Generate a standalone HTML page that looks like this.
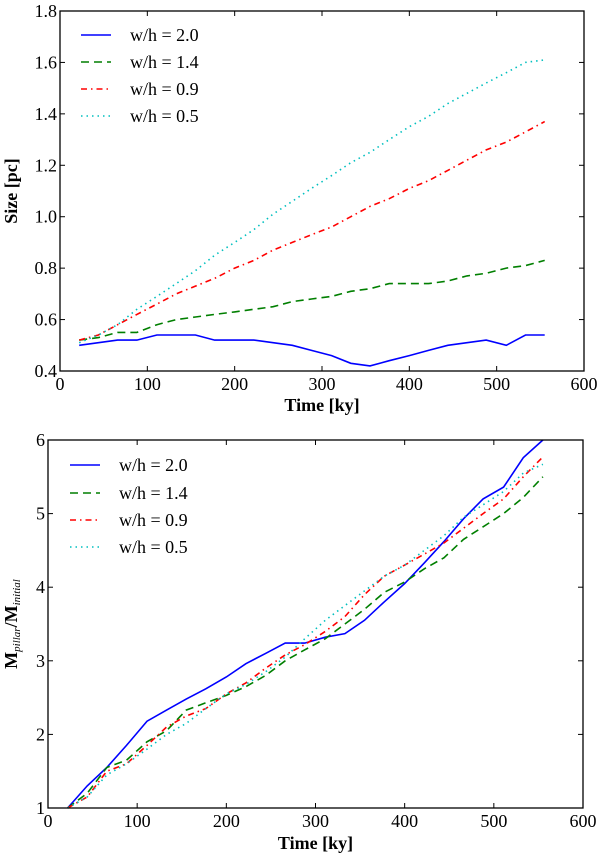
<!DOCTYPE html>
<html><head><meta charset="utf-8"><style>
html,body{margin:0;padding:0;background:#fff;}
svg{display:block;font-family:"Liberation Serif",serif;}
</style></head><body>
<svg id="chart" width="600" height="856" viewBox="0 0 600 856" xmlns="http://www.w3.org/2000/svg"></svg>
<script>
const times = [22,44,66,88,111,133,155,177,200,222,244,266,288,311,333,355,377,400,422,444,466,488,511,533,555];
const seriesLabels = ["w/h = 2.0","w/h = 1.4","w/h = 0.9","w/h = 0.5"];
const sizeA = [0.50,0.51,0.52,0.52,0.54,0.54,0.54,0.52,0.52,0.52,0.51,0.50,0.48,0.46,0.43,0.42,0.44,0.46,0.48,0.50,0.51,0.52,0.50,0.54,0.54];
const sizeB = [0.52,0.53,0.55,0.55,0.58,0.60,0.61,0.62,0.63,0.64,0.65,0.67,0.68,0.69,0.71,0.72,0.74,0.74,0.74,0.75,0.77,0.78,0.80,0.81,0.83];
const sizeC = [0.52,0.54,0.58,0.62,0.66,0.70,0.73,0.76,0.80,0.83,0.87,0.90,0.93,0.96,1.00,1.04,1.07,1.11,1.14,1.18,1.22,1.26,1.29,1.33,1.37];
const sizeD = [0.51,0.54,0.58,0.64,0.69,0.74,0.79,0.85,0.90,0.95,1.01,1.06,1.11,1.16,1.21,1.25,1.30,1.35,1.39,1.44,1.48,1.52,1.56,1.60,1.61];
const massA = [1.0,1.3,1.55,1.85,2.18,2.33,2.48,2.62,2.78,2.96,3.1,3.24,3.24,3.32,3.37,3.55,3.8,4.05,4.33,4.62,4.93,5.2,5.36,5.76,6.0];
const massB = [1.0,1.2,1.55,1.65,1.9,2.05,2.33,2.43,2.53,2.65,2.8,3.0,3.15,3.3,3.5,3.7,3.93,4.07,4.25,4.4,4.65,4.82,5.0,5.22,5.5];
const massC = [1.0,1.15,1.5,1.6,1.85,2.1,2.25,2.35,2.55,2.7,2.9,3.08,3.22,3.4,3.6,3.9,4.15,4.3,4.45,4.6,4.8,5.0,5.2,5.5,5.77];
const massD = [1.0,1.15,1.45,1.6,1.8,2.0,2.15,2.35,2.55,2.68,2.85,3.05,3.3,3.55,3.75,3.95,4.15,4.3,4.5,4.7,4.95,5.12,5.3,5.55,5.67];
const xTicks = [0,100,200,300,400,500,600];
const sizeTicks = [0.4,0.6,0.8,1.0,1.2,1.4,1.6,1.8];
const massTicks = [1,2,3,4,5,6];

const NS="http://www.w3.org/2000/svg";
const svg=document.getElementById('chart');
function mk(tag,attrs,parent){const e=document.createElementNS(NS,tag);for(const k in attrs)e.setAttribute(k,attrs[k]);(parent||svg).appendChild(e);return e;}
const styles=[
 {color:"#0000ff",dash:""},
 {color:"#007f00",dash:"8,5"},
 {color:"#ff0000",dash:"6,4,1.5,4"},
 {color:"#00bfbf",dash:"1.5,4"}];

function panel(opt){
  const g=mk('g',{});
  
  
  const L=opt.left,R=opt.right,T=opt.top,B=opt.bottom;
  const xs=v=>L+(v-0)/(600-0)*(R-L);
  const ys=v=>B-(v-opt.ymin)/(opt.ymax-opt.ymin)*(B-T);
  opt.series.forEach((data,i)=>{
    const pts=times.map((t,j)=>xs(t).toFixed(1)+","+ys(data[j]).toFixed(1)).join(" ");
    const p=mk('polyline',{points:pts,fill:"none",stroke:styles[i].color,"stroke-width":1.6,"stroke-dasharray":styles[i].dash},g);
    
    
  });
  const frame=mk('rect',{x:L,y:T,width:R-L,height:B-T,fill:"none",stroke:"#000","stroke-width":1.3},g);
  
  
  xTicks.forEach(v=>{
    const x=xs(v);
    mk('line',{x1:x,x2:x,y1:B,y2:B-5,stroke:"#000"},g);
    mk('line',{x1:x,x2:x,y1:T,y2:T+5,stroke:"#000"},g);
    const t=mk('text',{x:x,y:B+19,"text-anchor":"middle","font-size":18},g);
    t.textContent=v;
    
    
  });
  opt.ticks.forEach(v=>{
    const y=ys(v);
    mk('line',{x1:L,x2:L+5,y1:y,y2:y,stroke:"#000"},g);
    mk('line',{x1:R,x2:R-5,y1:y,y2:y,stroke:"#000"},g);
    const t=mk('text',{x:L-3,y:y+6,"text-anchor":"end","font-size":18},g);
    t.textContent=opt.fmt(v);
    
    
  });
  const xt=mk('text',{x:(L+R)/2,y:opt.xTitleY,"text-anchor":"middle","font-size":18,"font-weight":"bold"},g);
  xt.textContent="Time [ky]";
  
  
  const yt=mk('text',{x:0,y:0,"text-anchor":"middle","font-size":18,"font-weight":"bold",transform:`translate(${opt.yTitleX},${(T+B)/2}) rotate(-90)`},g);
  yt.innerHTML=opt.yTitle;
  
  
  const lg=mk('g',{},g);
  
  
  seriesLabels.forEach((lab,i)=>{
    const y=opt.legY[i];
    const e=mk('g',{},lg);
    
    
    mk('line',{x1:opt.legX,x2:opt.legX+30,y1:y,y2:y,stroke:styles[i].color,"stroke-width":1.6,"stroke-dasharray":styles[i].dash},e);
    const t=mk('text',{x:opt.legX+49,y:y+6,"font-size":18},e);
    t.textContent=lab;
  });
}
panel({name:'size-chart',left:60,right:584,top:11,bottom:371,ymin:0.4,ymax:1.8,ticks:sizeTicks,fmt:v=>v.toFixed(1),
  series:[sizeA,sizeB,sizeC,sizeD],xTitleY:411,yTitleX:17,yTitle:"Size [pc]",legX:81,legY:[35,62,89,116]});
panel({name:'mass-chart',left:48,right:583,top:440,bottom:808,ymin:1,ymax:6,ticks:massTicks,fmt:v=>String(v),
  series:[massA,massB,massC,massD],xTitleY:849,yTitleX:17,
  yTitle:'M<tspan font-size="11" font-weight="normal" font-style="italic" dy="3">pillar</tspan><tspan dy="-3">/M</tspan><tspan font-size="11" font-weight="normal" font-style="italic" dy="3">initial</tspan>',
  legX:70,legY:[465,493,520,547]});
</script>
</body></html>
